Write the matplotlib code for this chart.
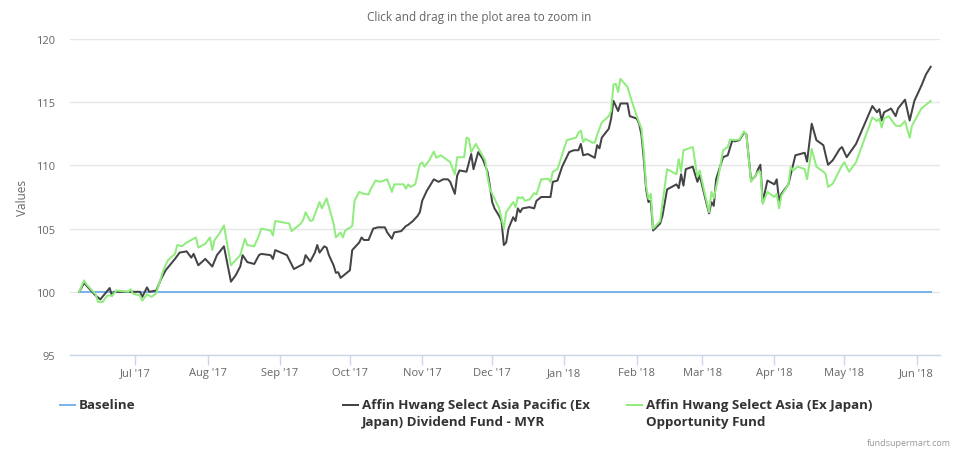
import matplotlib
matplotlib.use("Agg")
import matplotlib.pyplot as plt
import matplotlib.dates as mdates
from matplotlib.lines import Line2D
import pandas as pd

# ---------------- data ----------------
series_names = [
    "Baseline",
    "Affin Hwang Select Asia Pacific (Ex\nJapan) Dividend Fund - MYR",
    "Affin Hwang Select Asia (Ex Japan)\nOpportunity Fund",
]

baseline_dates = ["2017-06-07", "2018-06-07"]
baseline_values = [100.0, 100.0]

dividend_dates = [
    "2017-06-07", "2017-06-09", "2017-06-14", "2017-06-16", "2017-06-20", "2017-06-21",
    "2017-06-22", "2017-06-28", "2017-07-03", "2017-07-04", "2017-07-06", "2017-07-07",
    "2017-07-10", "2017-07-12", "2017-07-14", "2017-07-18", "2017-07-20", "2017-07-23",
    "2017-07-25", "2017-07-26", "2017-07-28", "2017-07-31", "2017-08-03", "2017-08-05",
    "2017-08-08", "2017-08-11", "2017-08-13", "2017-08-15", "2017-08-16", "2017-08-18",
    "2017-08-21", "2017-08-23", "2017-08-24", "2017-08-28", "2017-08-29", "2017-08-30",
    "2017-09-04", "2017-09-07", "2017-09-09", "2017-09-11", "2017-09-12", "2017-09-14",
    "2017-09-16", "2017-09-17", "2017-09-18", "2017-09-20", "2017-09-21", "2017-09-22",
    "2017-09-24", "2017-09-25", "2017-09-26", "2017-09-27", "2017-09-29", "2017-10-01",
    "2017-10-02", "2017-10-04", "2017-10-05", "2017-10-06", "2017-10-07", "2017-10-09",
    "2017-10-11", "2017-10-13", "2017-10-16", "2017-10-17", "2017-10-19", "2017-10-20",
    "2017-10-23", "2017-10-25", "2017-10-26", "2017-10-28", "2017-10-30", "2017-10-31",
    "2017-11-01", "2017-11-02", "2017-11-03", "2017-11-04", "2017-11-06", "2017-11-08",
    "2017-11-10", "2017-11-12", "2017-11-13", "2017-11-15", "2017-11-16", "2017-11-17",
    "2017-11-20", "2017-11-22", "2017-11-23", "2017-11-25", "2017-11-27", "2017-11-29",
    "2017-11-30", "2017-12-01", "2017-12-02", "2017-12-04", "2017-12-05", "2017-12-06",
    "2017-12-07", "2017-12-08", "2017-12-10", "2017-12-11", "2017-12-12", "2017-12-13",
    "2017-12-14", "2017-12-17", "2017-12-19", "2017-12-20", "2017-12-22", "2017-12-26",
    "2017-12-27", "2017-12-29", "2017-12-31", "2018-01-03", "2018-01-05", "2018-01-07",
    "2018-01-08", "2018-01-09", "2018-01-11", "2018-01-14", "2018-01-15", "2018-01-16",
    "2018-01-17", "2018-01-20", "2018-01-21", "2018-01-22", "2018-01-24", "2018-01-25",
    "2018-01-28", "2018-01-29", "2018-02-01", "2018-02-02", "2018-02-03", "2018-02-04",
    "2018-02-05", "2018-02-06", "2018-02-07", "2018-02-08", "2018-02-11", "2018-02-12",
    "2018-02-14", "2018-02-17", "2018-02-18", "2018-02-19", "2018-02-20", "2018-02-21",
    "2018-02-22", "2018-02-25", "2018-02-27", "2018-02-28", "2018-03-03", "2018-03-04",
    "2018-03-05", "2018-03-06", "2018-03-07", "2018-03-10", "2018-03-12", "2018-03-14",
    "2018-03-15", "2018-03-17", "2018-03-19", "2018-03-20", "2018-03-22", "2018-03-24",
    "2018-03-25", "2018-03-26", "2018-03-27", "2018-03-29", "2018-03-30", "2018-04-01",
    "2018-04-02", "2018-04-03", "2018-04-04", "2018-04-07", "2018-04-09", "2018-04-10",
    "2018-04-14", "2018-04-15", "2018-04-17", "2018-04-19", "2018-04-22", "2018-04-23",
    "2018-04-24", "2018-04-26", "2018-04-29", "2018-04-30", "2018-05-02", "2018-05-06",
    "2018-05-13", "2018-05-15", "2018-05-16", "2018-05-17", "2018-05-18", "2018-05-21",
    "2018-05-23", "2018-05-24", "2018-05-27", "2018-05-29", "2018-05-31", "2018-06-03",
    "2018-06-05", "2018-06-07",
]
dividend_values = [
    100.0, 100.7, 99.7, 99.4, 100.3, 99.7,
    100.0, 100.0, 100.0, 99.6, 100.35, 100.0,
    100.1, 101.0, 101.7, 102.6, 103.1, 103.2,
    102.7, 103.0, 102.1, 102.6, 102.0, 102.9,
    103.6, 100.8, 101.3, 102.0, 102.9, 102.35,
    102.2, 102.9, 103.0, 102.9, 102.6, 103.3,
    102.9, 101.8, 102.0, 102.2, 102.9, 102.4,
    103.1, 103.7, 103.1, 103.6, 103.5, 102.9,
    102.1, 101.5, 101.55, 101.1, 101.4, 101.7,
    103.3, 103.7, 103.9, 104.3, 104.1, 104.1,
    105.0, 105.1, 105.1, 104.7, 104.2, 104.7,
    104.8, 105.2, 105.3, 105.6, 106.0, 106.3,
    107.2, 107.6, 108.0, 108.3, 108.9, 108.7,
    108.9, 108.9, 108.7, 107.75, 109.2, 109.6,
    109.5, 110.9, 109.7, 111.05, 110.5, 109.5,
    108.4, 107.1, 106.6, 106.0, 105.6, 103.7,
    103.9, 105.0, 105.9, 105.6, 106.6, 106.3,
    106.6, 106.7, 106.6, 107.2, 107.5, 107.5,
    108.7, 108.8, 109.9, 111.05, 111.2, 111.2,
    111.7, 110.8, 110.9, 110.6, 111.6, 111.35,
    112.2, 112.9, 113.7, 115.1, 114.3, 114.9,
    114.9, 113.9, 113.7, 113.3, 112.4, 110.5,
    108.1, 107.1, 107.2, 104.85, 105.4, 106.0,
    108.1, 108.4, 108.5, 108.2, 109.3, 108.4,
    109.7, 109.9, 108.7, 109.2, 106.9, 106.2,
    107.1, 106.8, 108.9, 110.65, 110.8, 112.0,
    111.9, 112.0, 112.6, 112.45, 108.8, 109.2,
    109.7, 110.05, 107.1, 108.8, 108.7, 108.5,
    108.9, 107.2, 107.75, 108.5, 110.05, 110.8,
    111.0, 110.3, 113.3, 112.0, 111.6, 110.8,
    110.05, 110.4, 111.3, 111.45, 110.65, 111.7,
    114.7, 114.2, 114.45, 113.55, 114.2, 114.5,
    113.9, 114.5, 115.2, 113.55, 115.1, 116.3,
    117.2, 117.8,
]

opportunity_dates = [
    "2017-06-07", "2017-06-09", "2017-06-10", "2017-06-14", "2017-06-15", "2017-06-17",
    "2017-06-19", "2017-06-21", "2017-06-23", "2017-06-28", "2017-06-29", "2017-06-30",
    "2017-07-03", "2017-07-04", "2017-07-06", "2017-07-08", "2017-07-10", "2017-07-13",
    "2017-07-15", "2017-07-18", "2017-07-19", "2017-07-21", "2017-07-23", "2017-07-25",
    "2017-07-27", "2017-07-28", "2017-07-31", "2017-08-02", "2017-08-03", "2017-08-04",
    "2017-08-06", "2017-08-08", "2017-08-11", "2017-08-13", "2017-08-15", "2017-08-17",
    "2017-08-18", "2017-08-21", "2017-08-23", "2017-08-24", "2017-08-28", "2017-08-29",
    "2017-08-30", "2017-09-05", "2017-09-06", "2017-09-10", "2017-09-11", "2017-09-12",
    "2017-09-14", "2017-09-15", "2017-09-18", "2017-09-19", "2017-09-21", "2017-09-24",
    "2017-09-25", "2017-09-27", "2017-09-28", "2017-09-29", "2017-10-02", "2017-10-03",
    "2017-10-05", "2017-10-07", "2017-10-09", "2017-10-10", "2017-10-12", "2017-10-14",
    "2017-10-17", "2017-10-19", "2017-10-20", "2017-10-24", "2017-10-25", "2017-10-26",
    "2017-10-27", "2017-10-29", "2017-10-31", "2017-11-01", "2017-11-02", "2017-11-04",
    "2017-11-06", "2017-11-07", "2017-11-09", "2017-11-13", "2017-11-15", "2017-11-16",
    "2017-11-19", "2017-11-20", "2017-11-21", "2017-11-22", "2017-11-24", "2017-11-28",
    "2017-11-29", "2017-11-30", "2017-12-04", "2017-12-06", "2017-12-07", "2017-12-10",
    "2017-12-11", "2017-12-12", "2017-12-13", "2017-12-14", "2017-12-15", "2017-12-17",
    "2017-12-19", "2017-12-20", "2017-12-22", "2017-12-25", "2017-12-26", "2017-12-27",
    "2017-12-29", "2018-01-02", "2018-01-04", "2018-01-06", "2018-01-07", "2018-01-08",
    "2018-01-09", "2018-01-10", "2018-01-11", "2018-01-13", "2018-01-14", "2018-01-15",
    "2018-01-17", "2018-01-20", "2018-01-21", "2018-01-22", "2018-01-23", "2018-01-24",
    "2018-01-25", "2018-01-28", "2018-01-30", "2018-02-01", "2018-02-03", "2018-02-04",
    "2018-02-05", "2018-02-06", "2018-02-07", "2018-02-08", "2018-02-11", "2018-02-14",
    "2018-02-18", "2018-02-19", "2018-02-20", "2018-02-21", "2018-02-25", "2018-02-27",
    "2018-02-28", "2018-03-02", "2018-03-04", "2018-03-05", "2018-03-06", "2018-03-08",
    "2018-03-10", "2018-03-12", "2018-03-13", "2018-03-15", "2018-03-17", "2018-03-19",
    "2018-03-20", "2018-03-22", "2018-03-25", "2018-03-26", "2018-03-27", "2018-03-29",
    "2018-04-01", "2018-04-02", "2018-04-03", "2018-04-04", "2018-04-07", "2018-04-08",
    "2018-04-09", "2018-04-11", "2018-04-14", "2018-04-15", "2018-04-17", "2018-04-19",
    "2018-04-22", "2018-04-23", "2018-04-24", "2018-04-26", "2018-04-30", "2018-05-01",
    "2018-05-03", "2018-05-06", "2018-05-13", "2018-05-15", "2018-05-16", "2018-05-17",
    "2018-05-18", "2018-05-20", "2018-05-23", "2018-05-25", "2018-05-27", "2018-05-29",
    "2018-05-30", "2018-06-03", "2018-06-07",
]
opportunity_values = [
    100.0, 100.9, 100.6, 99.8, 99.2, 99.2,
    99.7, 99.7, 100.1, 100.0, 100.2, 99.85,
    99.7, 99.3, 99.8, 99.6, 99.9, 101.7,
    102.5, 103.0, 103.7, 103.6, 103.9, 104.1,
    104.3, 103.5, 103.8, 104.3, 103.3, 104.1,
    104.6, 105.25, 102.1, 102.5, 102.9, 104.2,
    103.7, 103.6, 104.45, 105.0, 104.85, 104.45,
    105.6, 105.4, 104.8, 105.4, 105.7, 106.3,
    105.6, 105.65, 107.1, 106.6, 107.4, 105.4,
    104.3, 104.7, 104.3, 104.85, 105.2, 107.2,
    107.9, 107.75, 107.7, 108.15, 108.8, 108.7,
    108.9, 107.9, 108.5, 108.5, 108.15, 108.5,
    108.3, 108.5, 110.1, 110.25, 109.9, 110.4,
    111.1, 110.6, 110.8, 110.25, 109.3, 110.65,
    110.65, 112.2, 112.1, 111.05, 111.7, 110.4,
    109.1, 108.15, 106.6, 105.0, 106.3, 107.1,
    106.7, 107.5, 107.4, 107.5, 107.2, 107.3,
    107.8, 107.7, 108.9, 108.95, 108.7, 109.5,
    109.7, 112.0, 112.1, 112.2, 112.6, 112.75,
    111.85, 112.1, 112.0, 111.8, 111.8, 112.4,
    113.4, 113.9, 114.3, 116.4, 116.45, 115.8,
    116.85, 116.2, 115.0, 113.9, 112.9, 111.05,
    108.4, 107.35, 107.75, 105.0, 105.6, 109.7,
    109.3, 110.5, 109.5, 111.2, 111.45, 109.1,
    109.6, 107.9, 106.3, 107.9, 107.4, 109.1,
    111.2, 111.45, 112.05, 112.0, 112.05, 112.7,
    112.4, 108.7, 109.5, 109.5, 106.95, 107.9,
    107.5, 107.75, 106.6, 107.6, 108.5, 109.9,
    109.6, 109.9, 109.7, 108.9, 111.3, 109.9,
    109.5, 109.3, 108.3, 108.55, 110.0, 110.25,
    109.5, 110.25, 113.8, 113.5, 113.7, 113.0,
    113.7, 113.9, 113.15, 113.1, 113.5, 112.2,
    113.15, 114.5, 115.1,
]

y_ticks = [95, 100, 105, 110, 115, 120]
x_range = ["2017-06-03", "2018-06-11"]

series_colors = ["#7cb5ec", "#434348", "#90ed7d"]

# ---------------- figure ----------------
W, H = 959, 452
fig = plt.figure(figsize=(W / 100, H / 100), dpi=100)
plt.rcParams["font.family"] = ["Open Sans", "DejaVu Sans"]

ax = fig.add_axes([70 / W, 1 - 356 / H, 870 / W, 316 / H])

lw = 2 * 72 / 100
ax.plot(pd.to_datetime(baseline_dates), baseline_values, color=series_colors[0], lw=lw, zorder=2)
ax.plot(pd.to_datetime(dividend_dates), dividend_values, color=series_colors[1], lw=lw, zorder=3,
        solid_joinstyle="round")
ax.plot(pd.to_datetime(opportunity_dates), opportunity_values, color=series_colors[2], lw=lw, zorder=4,
        solid_joinstyle="round")

ax.set_xlim(pd.to_datetime(x_range[0]), pd.to_datetime(x_range[1]))
ax.set_ylim(y_ticks[0], y_ticks[-1])
ax.set_yticks(y_ticks)
ax.yaxis.grid(True, color="#e6e6e6", lw=1)
ax.set_axisbelow(True)

ax.xaxis.set_major_locator(mdates.MonthLocator(bymonth=range(1, 13)))
ax.xaxis.set_major_formatter(mdates.DateFormatter("%b '%y"))
ax.set_xticks([t for t in ax.get_xticks() if t >= mdates.date2num(pd.Timestamp("2017-07-01"))])

for s in ["top", "right", "left"]:
    ax.spines[s].set_visible(False)
ax.spines["bottom"].set_color("#ccd6eb")
ax.spines["bottom"].set_linewidth(1)

ax.tick_params(axis="x", direction="out", length=7, width=1, color="#ccd6eb",
               labelsize=8, labelcolor="#666666", pad=2)
ax.tick_params(axis="y", length=0, labelsize=8, labelcolor="#666666", pad=11)

# title / axis label
fig.text(479.5 / W, 1 - 18 / H, "Click and drag in the plot area to zoom in",
         ha="center", va="center", fontsize=8.5, color="#666666")
fig.text(22 / W, 1 - 198 / H, "Values", rotation=90, ha="center", va="center",
         fontsize=8.5, color="#666666")

# legend
legend_x = [60, 343, 627]
legend_y = 1 - 406 / H
for name, color, x0 in zip(series_names, series_colors, legend_x):
    fig.add_artist(Line2D([x0 / W, (x0 + 15) / W], [legend_y, legend_y],
                          color=color, lw=lw, transform=fig.transFigure))
    fig.text((x0 + 19) / W, 1 - 399.5 / H, name, ha="left", va="top", fontsize=9.6,
             fontweight="bold", color="#333333", linespacing=1.32)

fig.text(951 / W, 1 - 444 / H, "fundsupermart.com", ha="right", va="center",
         fontsize=6.5, color="#999999")

fig.savefig("out.png", dpi=100)
